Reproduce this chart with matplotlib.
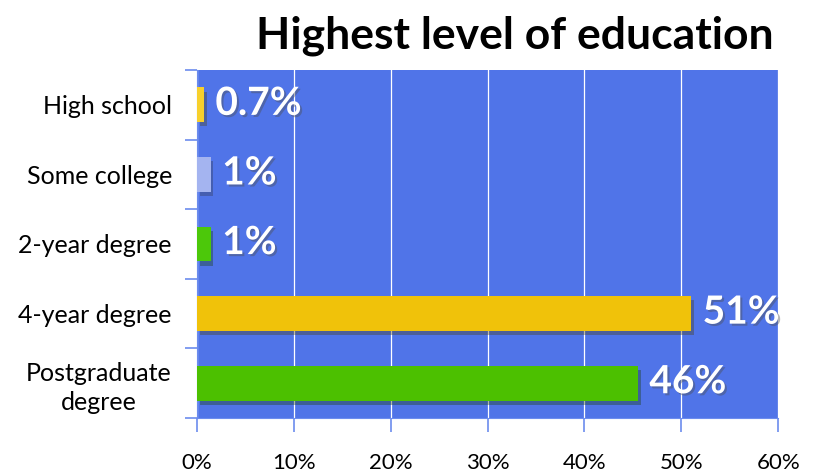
import numpy as np
import matplotlib.pyplot as plt
import matplotlib.patheffects as pe

# Data
categories = ['High school', 'Some college', '2-year degree', '4-year degree', 'Postgraduate\ndegree']
values = [0.7, 1.4, 1.4, 51, 45.5]
value_labels = ['0.7%', '1%', '1%', '51%', '46%']
bar_colors = ['#F7D02C', '#A4B4F0', '#4CC80A', '#F0C20A', '#4CC000']
x_ticks = [0, 10, 20, 30, 40, 50, 60]

bg_blue = '#5074E8'
tick_blue = '#6C8CEE'

fig = plt.figure(figsize=(8.14, 4.76), dpi=100)
ax = fig.add_axes([0.242, 0.122, 0.714, 0.731])
ax.set_facecolor(bg_blue)

y = np.arange(len(categories))
bars = ax.barh(y, values, height=0.5, color=bar_colors, zorder=3,
               path_effects=[pe.SimplePatchShadow(offset=(2, -3), alpha=0.35), pe.Normal()])

for yi, v, lab in zip(y, values, value_labels):
    ax.text(v + 1.2, yi - 0.02, lab, color='white', fontsize=28, fontweight='bold',
            family='Lato', va='center', ha='left', zorder=4,
            path_effects=[pe.withSimplePatchShadow(offset=(1.5, -1.5), alpha=0.4)])

ax.set_xlim(0, 60)
ax.set_ylim(len(categories) - 0.5, -0.5)
ax.set_xticks(x_ticks)
ax.set_xticklabels([f'{t}%' for t in x_ticks], fontsize=16, family='Lato')
ax.xaxis.grid(True, color='white', linewidth=0.9, zorder=1)
ax.set_axisbelow(True)

# category labels between boundary ticks
ax.set_yticks(np.arange(-0.5, len(categories), 1))
ax.set_yticklabels([])
ax.set_yticks(y, minor=True)
ax.set_yticklabels(categories, minor=True, fontsize=18, family='Lato',
                   multialignment='center', linespacing=1.3)
ax.tick_params(axis='y', which='minor', length=0, pad=18)
ax.tick_params(axis='y', which='major', length=9, color=tick_blue, width=1.2)
ax.tick_params(axis='x', length=10, color=tick_blue, width=1.2, pad=15)

for s in ['top', 'right']:
    ax.spines[s].set_visible(False)
ax.spines['left'].set_color(tick_blue)
ax.spines['bottom'].set_color(tick_blue)

fig.text(0.95, 0.925, 'Highest level of education', ha='right', va='center',
         fontsize=32, fontweight='bold', family='Lato')

plt.savefig('out.png', dpi=100)
